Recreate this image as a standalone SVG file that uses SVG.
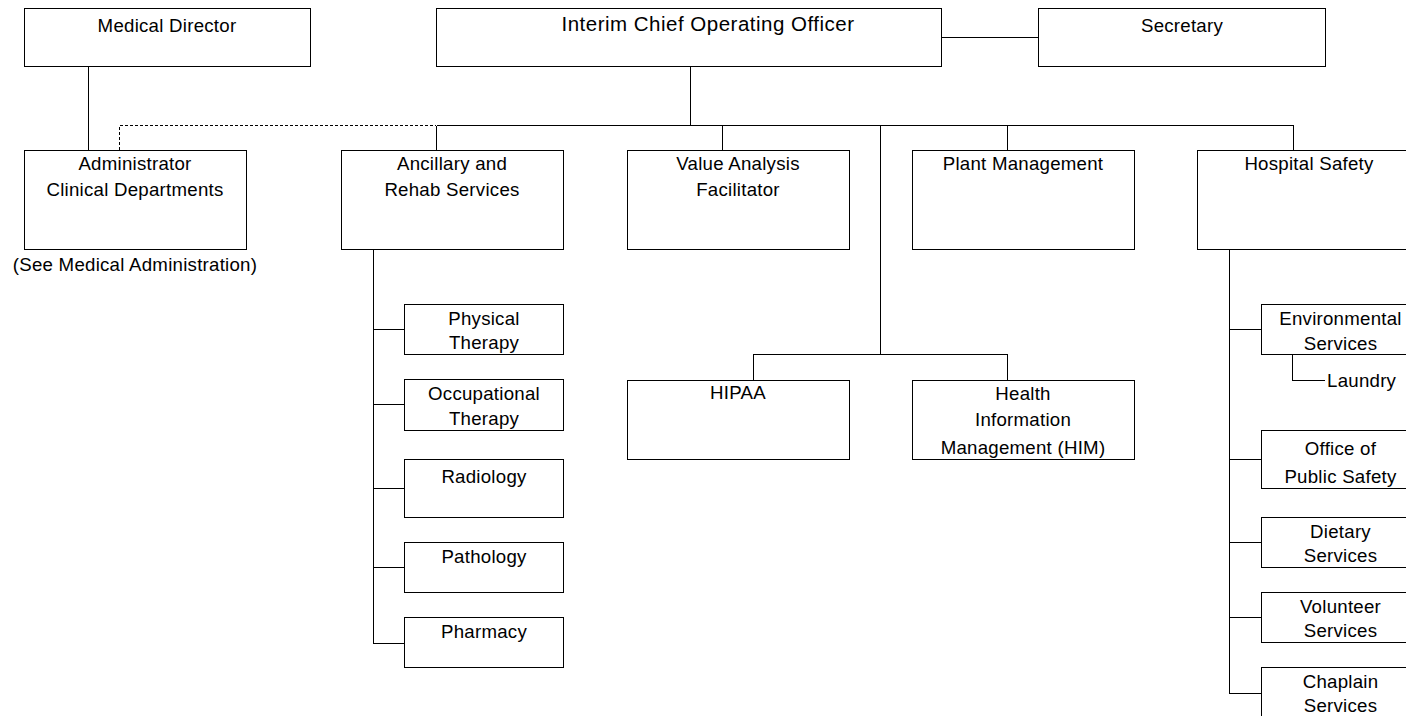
<svg xmlns="http://www.w3.org/2000/svg" width="1406" height="716" viewBox="0 0 1406 716">
  <style>
    .box { fill: #ffffff; stroke: #000000; stroke-width: 1; shape-rendering: crispEdges; }
    .ln { fill: none; stroke: #000000; stroke-width: 1; shape-rendering: crispEdges; }
    .dash { stroke-dasharray: 3 2; }
    text { font-family: "Liberation Sans", Arial, sans-serif; font-size: 18.67px; letter-spacing: 0.25px; fill: #000000; text-anchor: middle; }
    .title { font-size: 20.5px; letter-spacing: 0.5px; }
    .start { text-anchor: start; }
  </style>
  <rect width="1406" height="716" fill="#ffffff"/>

  <!-- reporting lines -->
  <g id="connectors">
    <path class="ln" d="M88.5 66.5 V150.5"/>
    <path class="ln dash" d="M119.5 150 V125.5 H436"/>
    <path class="ln" d="M941 37.5 H1038"/>
    <path class="ln" d="M690.5 66.5 V125.5"/>
    <path class="ln" d="M436.5 125.5 H1293.5"/>
    <path class="ln" d="M436.5 125.5 V150.5 M722.5 125.5 V150.5 M1007.5 125.5 V150.5 M1293.5 125.5 V150.5"/>
    <path class="ln" d="M880.5 125.5 V354.5"/>
    <path class="ln" d="M753.5 380.5 V354.5 H1007.5 V380.5"/>
    <path class="ln" d="M373.5 249.5 V643.5 H404.5 M373.5 329.5 H404.5 M373.5 404.5 H404.5 M373.5 488.5 H404.5 M373.5 567.5 H404.5"/>
    <path class="ln" d="M1229.5 249.5 V693.5 H1261.5 M1229.5 329.5 H1261.5 M1229.5 459.5 H1261.5 M1229.5 542.5 H1261.5 M1229.5 617.5 H1261.5"/>
    <path class="ln" d="M1292.5 354.5 V380.5 H1325"/>
  </g>

  <g id="medical-director">
    <rect class="box" x="24.5" y="8.5" width="286" height="58"/>
    <text x="167" y="32">Medical Director</text>
  </g>
  <g id="coo">
    <rect class="box" x="436.5" y="8.5" width="505" height="58"/>
    <text class="title" x="708" y="31">Interim Chief Operating Officer</text>
  </g>
  <g id="secretary">
    <rect class="box" x="1038.5" y="8.5" width="287" height="58"/>
    <text x="1182" y="32">Secretary</text>
  </g>

  <g id="administrator">
    <rect class="box" x="24.5" y="150.5" width="222" height="99"/>
    <text x="135" y="170">Administrator</text>
    <text x="135" y="196">Clinical Departments</text>
    <text x="135" y="271">(See Medical Administration)</text>
  </g>
  <g id="ancillary">
    <rect class="box" x="341.5" y="150.5" width="222" height="99"/>
    <text x="452" y="170">Ancillary and</text>
    <text x="452" y="196">Rehab Services</text>
  </g>
  <g id="value-analysis">
    <rect class="box" x="627.5" y="150.5" width="222" height="99"/>
    <text x="738" y="170">Value Analysis</text>
    <text x="738" y="196">Facilitator</text>
  </g>
  <g id="plant-management">
    <rect class="box" x="912.5" y="150.5" width="222" height="99"/>
    <text x="1023" y="170">Plant Management</text>
  </g>
  <g id="hospital-safety">
    <rect class="box" x="1197.5" y="150.5" width="223" height="99"/>
    <text x="1309" y="170">Hospital Safety</text>
  </g>

  <g id="hipaa">
    <rect class="box" x="627.5" y="380.5" width="222" height="79"/>
    <text x="738" y="399">HIPAA</text>
  </g>
  <g id="him">
    <rect class="box" x="912.5" y="380.5" width="222" height="79"/>
    <text x="1023" y="400">Health</text>
    <text x="1023" y="426">Information</text>
    <text x="1023" y="454">Management (HIM)</text>
  </g>

  <g id="physical-therapy">
    <rect class="box" x="404.5" y="304.5" width="159" height="50"/>
    <text x="484" y="325">Physical</text>
    <text x="484" y="349">Therapy</text>
  </g>
  <g id="occupational-therapy">
    <rect class="box" x="404.5" y="379.5" width="159" height="51"/>
    <text x="484" y="400">Occupational</text>
    <text x="484" y="425">Therapy</text>
  </g>
  <g id="radiology">
    <rect class="box" x="404.5" y="459.5" width="159" height="58"/>
    <text x="484" y="483">Radiology</text>
  </g>
  <g id="pathology">
    <rect class="box" x="404.5" y="542.5" width="159" height="50"/>
    <text x="484" y="563">Pathology</text>
  </g>
  <g id="pharmacy">
    <rect class="box" x="404.5" y="617.5" width="159" height="50"/>
    <text x="484" y="638">Pharmacy</text>
  </g>

  <g id="environmental-services">
    <rect class="box" x="1261.5" y="304.5" width="159" height="50"/>
    <text x="1340.5" y="325">Environmental</text>
    <text x="1340.5" y="350">Services</text>
  </g>
  <g id="laundry">
    <text class="start" x="1327" y="387">Laundry</text>
  </g>
  <g id="public-safety">
    <rect class="box" x="1261.5" y="430.5" width="159" height="58"/>
    <text x="1340.5" y="455">Office of</text>
    <text x="1340.5" y="483">Public Safety</text>
  </g>
  <g id="dietary-services">
    <rect class="box" x="1261.5" y="517.5" width="159" height="50"/>
    <text x="1340.5" y="538">Dietary</text>
    <text x="1340.5" y="562">Services</text>
  </g>
  <g id="volunteer-services">
    <rect class="box" x="1261.5" y="592.5" width="159" height="50"/>
    <text x="1340.5" y="613">Volunteer</text>
    <text x="1340.5" y="637">Services</text>
  </g>
  <g id="chaplain-services">
    <rect class="box" x="1261.5" y="667.5" width="159" height="70"/>
    <text x="1340.5" y="688">Chaplain</text>
    <text x="1340.5" y="712">Services</text>
  </g>
</svg>
